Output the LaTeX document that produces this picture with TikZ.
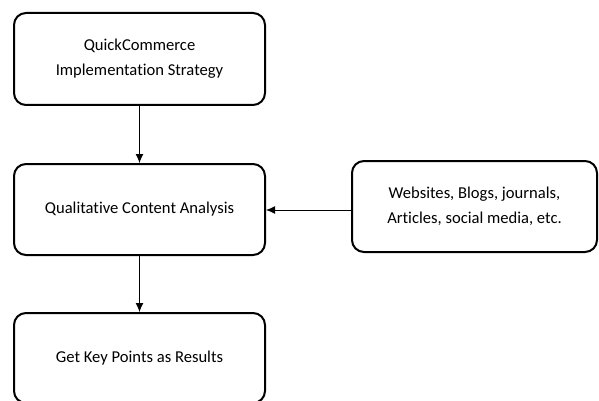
\documentclass[tikz,border=0pt]{standalone}
\usepackage{fontspec}
\setmainfont{Carlito}[Ligatures=NoCommon]
\usetikzlibrary{arrows.meta,calc}

\begin{document}
\begin{tikzpicture}[x=1pt,y=-1pt,
    every node/.style = {shape=rectangle, rounded corners=12pt,
      draw, line width=2pt, align=center,
      font=\fontsize{16.6}{25}\selectfont},
    flowarrow/.style = {line width=0.9pt, -{Latex[length=9pt,width=8pt]}}]
  \useasboundingbox (0,0) rectangle (599,401);
  \node[minimum width=251pt, minimum height=92pt] (strategy) at (139.5,59)
    {QuickCommerce\\Implementation Strategy};
  \node[minimum width=251pt, minimum height=91pt] (analysis) at (139.5,209.5)
    {Qualitative Content Analysis};
  \node[minimum width=251pt, minimum height=90pt] (results) at (139.5,358)
    {Get Key Points as Results};
  \node[minimum width=245pt, minimum height=91pt] (sources) at (474.5,206.5)
    {Websites, Blogs, journals,\\Articles, social media, etc.};
  \coordinate (srcin) at ($(sources.west)+(0,3.5)$);

  \draw[flowarrow] (strategy.south) -- (analysis.north);
  \draw[flowarrow] (srcin) -- (srcin -| analysis.east);
  \draw[flowarrow] (analysis.south) -- (results.north);
\end{tikzpicture}
\end{document}
